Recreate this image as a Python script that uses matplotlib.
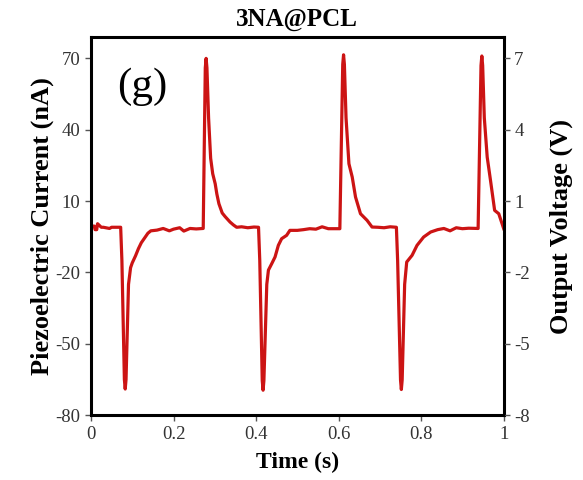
import matplotlib
matplotlib.use('Agg')
import matplotlib.pyplot as plt

# piezo current trace (time in s, current in nA)
time = [0.000, 0.008, 0.010, 0.014, 0.016, 0.025, 0.030, 0.045, 0.050, 0.070, 0.072,
        0.075, 0.081, 0.083, 0.085, 0.091, 0.096, 0.100, 0.108, 0.115, 0.122, 0.130, 0.138, 0.145,
        0.160, 0.175, 0.190, 0.200, 0.215, 0.225, 0.240, 0.255, 0.272,
        0.277, 0.279, 0.281, 0.285, 0.290, 0.295, 0.301, 0.305, 0.310, 0.318, 0.325, 0.337, 0.345, 0.353,
        0.365, 0.380, 0.395, 0.406,
        0.409, 0.415, 0.417, 0.419, 0.426, 0.430, 0.438, 0.446, 0.454, 0.462, 0.474, 0.482,
        0.500, 0.515, 0.530, 0.545, 0.560, 0.575, 0.590, 0.603,
        0.610, 0.612, 0.614, 0.618, 0.625, 0.633, 0.641, 0.653, 0.669, 0.681,
        0.695, 0.710, 0.725, 0.740,
        0.743, 0.750, 0.752, 0.754, 0.760, 0.765, 0.778, 0.790, 0.806, 0.823,
        0.840, 0.855, 0.870, 0.885, 0.900, 0.915, 0.938,
        0.945, 0.947, 0.949, 0.953, 0.960, 0.968, 0.978, 0.988, 1.000]
current = [-0.5, -0.5, -2.0, -2.0, 0.5, -1.0, -1.0, -1.5, -1.0, -1.0, -1.0,
           -15.0, -65.0, -69.0, -65.0, -25.0, -18.0, -16.0, -13.0, -10.0, -7.5, -5.5, -3.5, -2.5,
           -2.2, -1.5, -2.5, -1.8, -1.2, -2.6, -1.5, -1.7, -1.5,
           66.0, 70.0, 66.0, 45.0, 28.0, 21.5, 17.3, 13.0, 8.9, 5.0, 3.5, 1.2, 0.0, -1.0,
           -0.8, -1.2, -0.9, -1.0,
           -15.0, -65.5, -69.5, -65.5, -25.0, -19.0, -16.3, -13.5, -8.6, -5.8, -4.4, -2.3,
           -2.3, -2.0, -1.6, -1.8, -0.8, -1.6, -1.6, -1.6,
           67.5, 71.5, 67.5, 45.0, 25.7, 20.1, 11.7, 4.7, 1.9, -0.9,
           -1.0, -1.2, -0.8, -1.0,
           -15.0, -65.2, -69.2, -65.2, -25.0, -15.6, -12.8, -8.6, -5.1, -3.0,
           -2.0, -1.5, -2.5, -1.2, -1.6, -1.4, -1.5,
           67.0, 71.0, 67.0, 45.0, 28.5, 18.7, 6.1, 4.7, -1.6]

xticks = [0, 0.2, 0.4, 0.6, 0.8, 1]
xlabels = ['0', '0.2', '0.4', '0.6', '0.8', '1']
yticks = [-80, -50, -20, 10, 40, 70]
vticks = [-8, -5, -2, 1, 4, 7]

plt.rcParams['font.family'] = ['Liberation Serif', 'DejaVu Serif']
plt.rcParams['axes.unicode_minus'] = False

fig = plt.figure(figsize=(5.83, 4.8), dpi=100)
ax = fig.add_axes([0.156, 0.135, 0.708, 0.788])
ax.plot(time, current, color='#cc1414', lw=2.3, solid_joinstyle='round')
ax.set_xlim(0, 1)
ax.set_ylim(-80, 79)
ax.set_xticks(xticks)
ax.set_xticklabels(xlabels)
ax.set_yticks(yticks)
ax.tick_params(labelsize=13.5, length=4, width=1, direction='out', colors='#555555', labelcolor='#333333')
for s in ax.spines.values():
    s.set_linewidth(2.2)
ax.set_xlabel('Time (s)', fontsize=17, fontweight='bold', labelpad=7)
ax.set_ylabel('Piezoelectric Current (nA)', fontsize=19, fontweight='bold', labelpad=1)
ax.set_title('3NA@PCL', fontsize=18, fontweight='bold', pad=8)
ax.text(0.124, 0.868, '(g)', transform=ax.transAxes, fontsize=31, va='center', ha='center')

ax2 = ax.twinx()
ax2.set_ylim(-8, 7.9)
ax2.set_yticks(vticks)
ax2.tick_params(labelsize=13.5, length=4, width=1, direction='out', colors='#555555', labelcolor='#333333')
ax2.set_ylabel('Output Voltage (V)', fontsize=19, fontweight='bold', labelpad=14)

fig.savefig('out.png', dpi=100)
